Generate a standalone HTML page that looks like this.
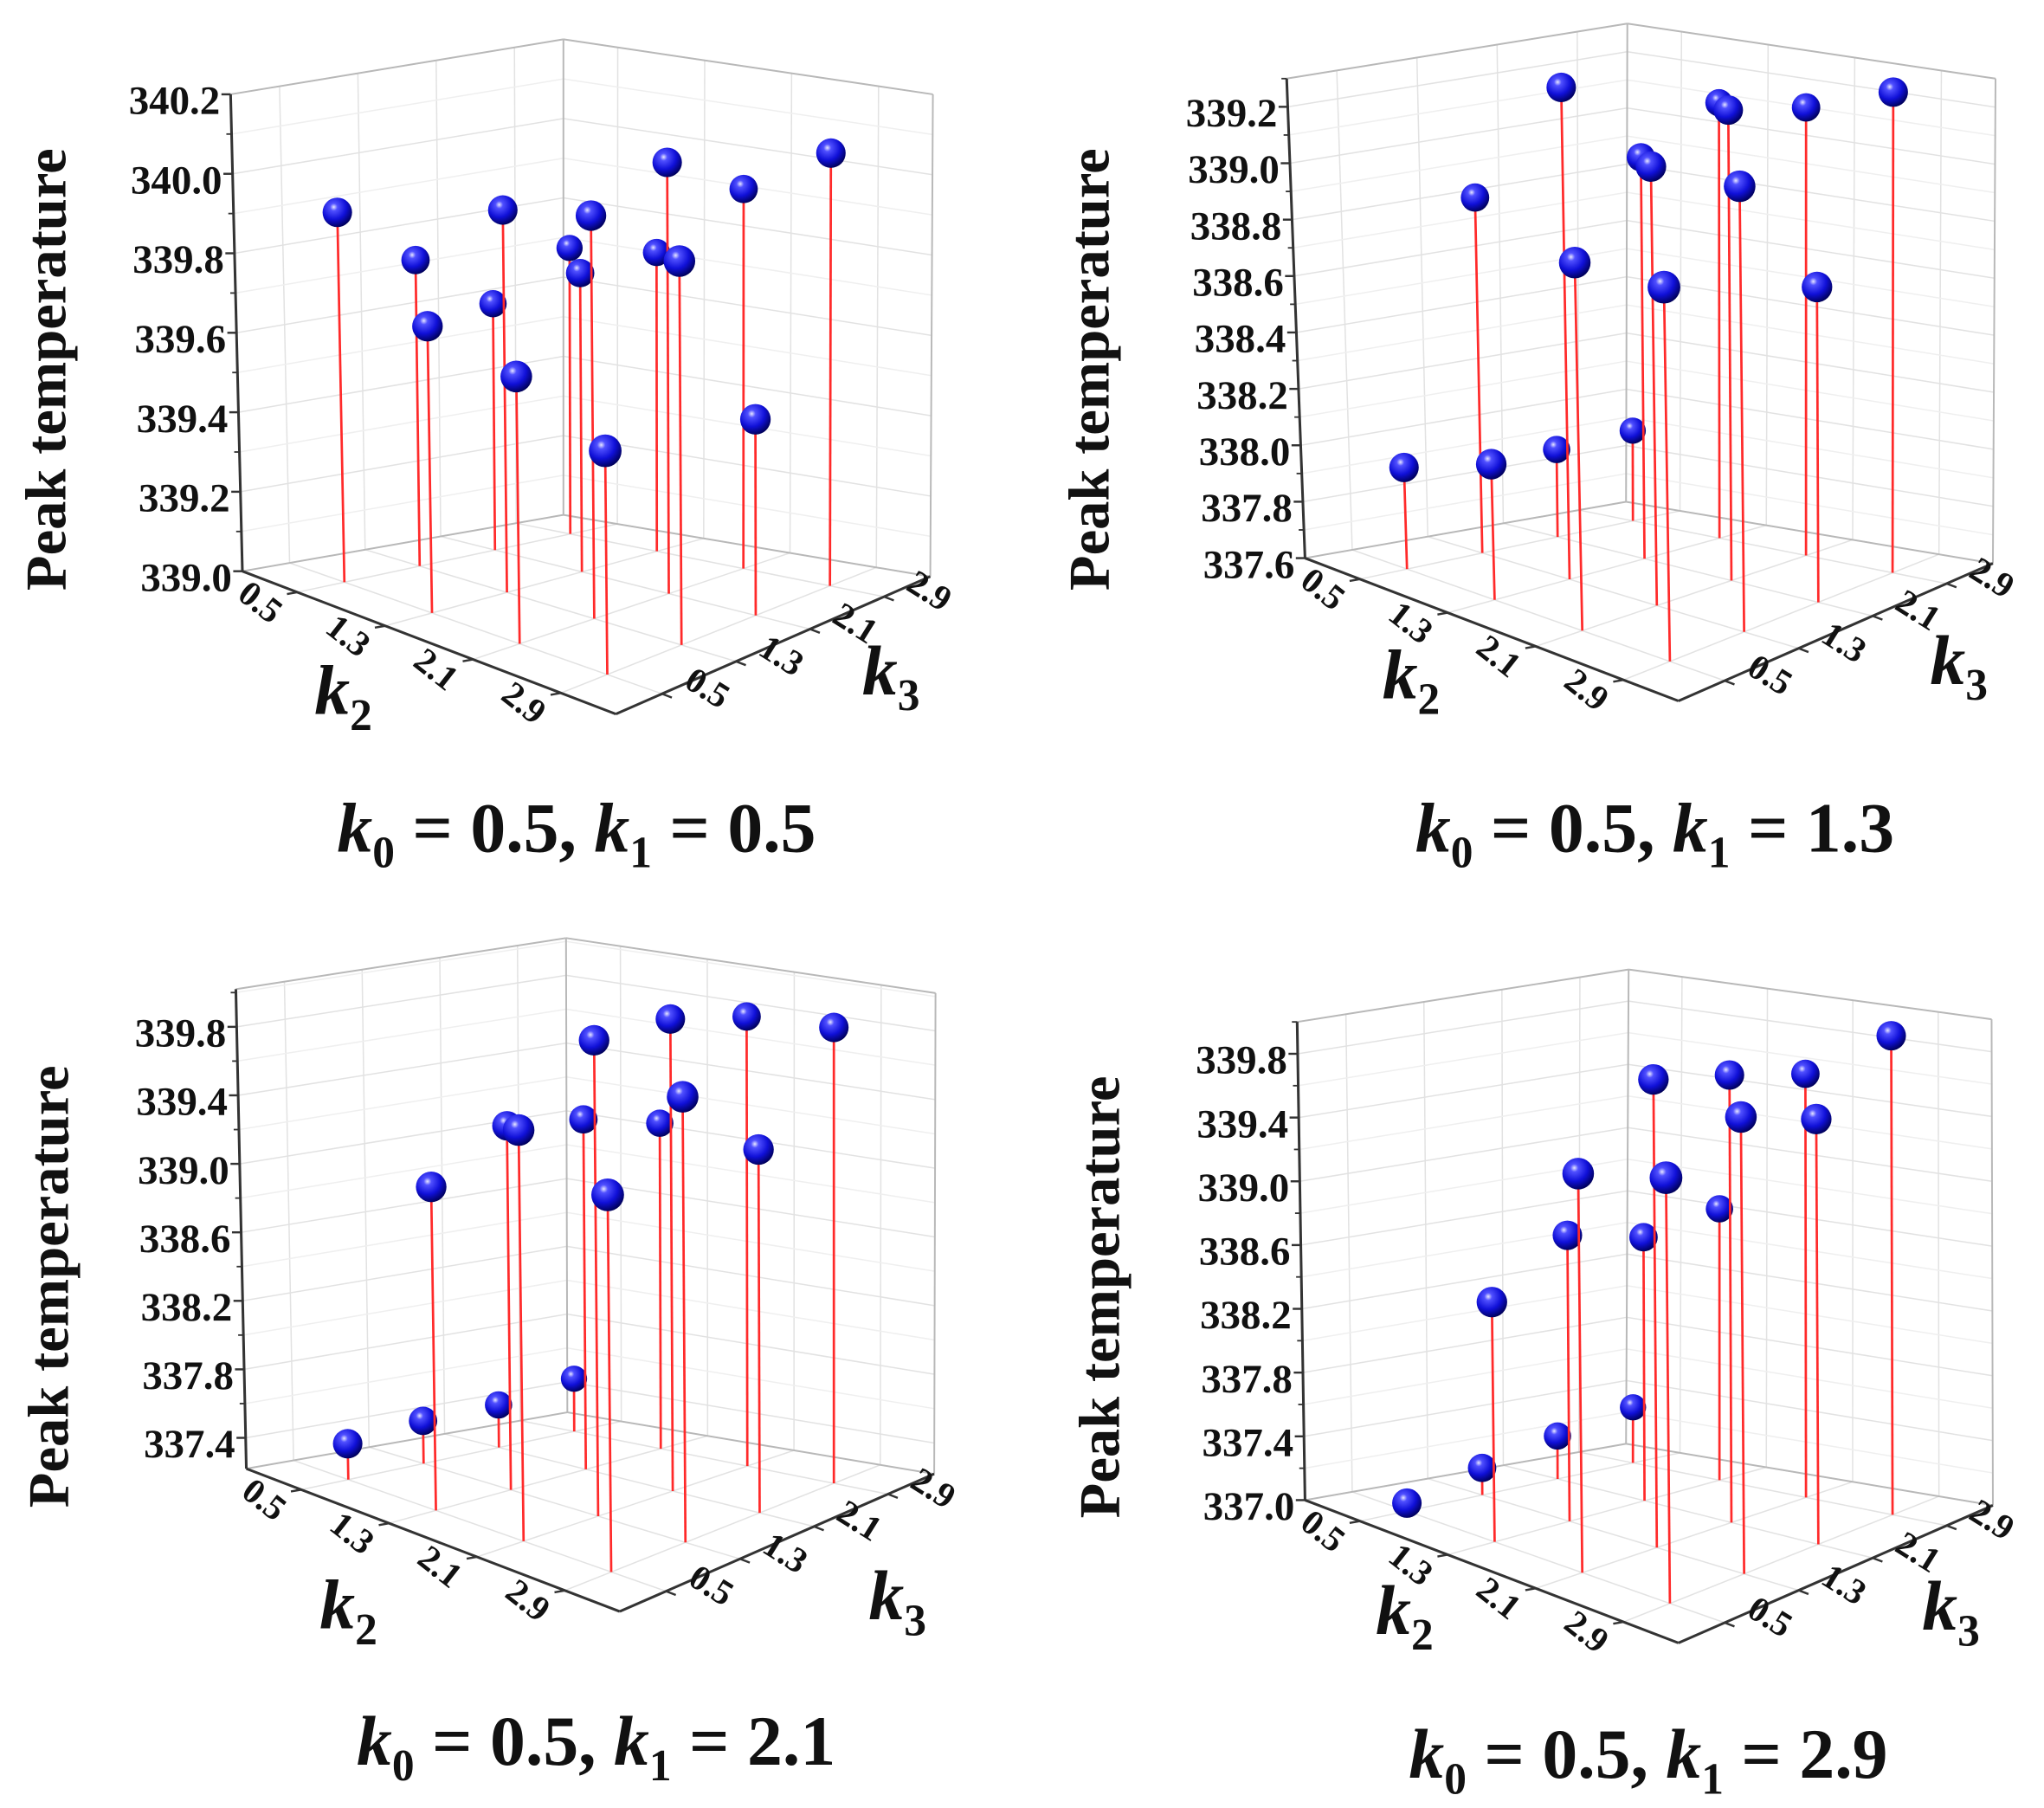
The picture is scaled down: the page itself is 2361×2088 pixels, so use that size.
<!DOCTYPE html>
<html><head><meta charset="utf-8"><style>
html,body{margin:0;padding:0;background:#fff;}
svg{display:block;}
text{font-family:"Liberation Serif",serif;}
</style></head><body>
<svg id="fig" xmlns="http://www.w3.org/2000/svg" width="2361" height="2088" viewBox="0 0 1560 1380" preserveAspectRatio="none">
<defs>
<radialGradient id="ballGrad" cx="0.38" cy="0.32" r="0.7">
<stop offset="0" stop-color="#e8e8ff"/>
<stop offset="0.18" stop-color="#5050ff"/>
<stop offset="0.6" stop-color="#1010d8"/>
<stop offset="1" stop-color="#00005a"/>
</radialGradient>
</defs>
</svg>
<script>
// ---- data ----
const k2Ticks = [0.5, 1.3, 2.1, 2.9];
const k3Ticks = [0.5, 1.3, 2.1, 2.9];
const k2Labels = ["0.5", "1.3", "2.1", "2.9"];
const k3Labels = ["0.5", "1.3", "2.1", "2.9"];
// rows: k2 = 0.5,1.3,2.1,2.9 ; columns: k3 = 0.5,1.3,2.1,2.9
const valsA = [339.93, 339.77, 339.62, 339.72,
               339.72, 339.96, 339.75, 339.75,
               339.67, 340.01, 340.08, 339.95,
               339.56, 339.96, 339.49, 340.08];
const valsB = [337.96, 338.86, 337.91, 337.92,
               338.08, 339.34, 339.02, 339.14,
               338.90, 339.15, 339.26, 339.18,
               338.92, 339.17, 338.71, 339.29];
const valsC = [337.43, 337.47, 337.47, 337.53,
               339.11, 339.35, 339.27, 339.13,
               339.62, 340.00, 339.98, 339.85,
               339.42, 339.82, 339.34, 339.88];
const valsD = [337.05, 337.17, 337.27, 337.35,
               338.50, 338.79, 338.65, 338.70,
               339.49, 339.92, 339.79, 339.64,
               339.65, 339.84, 339.64, 339.97];
const zTicksA = [339.0, 339.2, 339.4, 339.6, 339.8, 340.0, 340.2];
const zLabelsA = ["339.0", "339.2", "339.4", "339.6", "339.8", "340.0", "340.2"];
const zTicksB = [337.6, 337.8, 338.0, 338.2, 338.4, 338.6, 338.8, 339.0, 339.2];
const zLabelsB = ["337.6", "337.8", "338.0", "338.2", "338.4", "338.6", "338.8", "339.0", "339.2"];
const zTicksC = [337.4, 337.8, 338.2, 338.6, 339.0, 339.4, 339.8];
const zLabelsC = ["337.4", "337.8", "338.2", "338.6", "339.0", "339.4", "339.8"];
const zTicksD = [337.0, 337.4, 337.8, 338.2, 338.6, 339.0, 339.4, 339.8];
const zLabelsD = ["337.0", "337.4", "337.8", "338.2", "338.6", "339.0", "339.4", "339.8"];
const zRangeA = [339.0, 340.2];
const zRangeB = [337.6, 339.3];
const zRangeC = [337.22, 340.02];
const zRangeD = [337.0, 340.0];
const k1Values = ["0.5", "1.3", "2.1", "2.9"];
const kDomain = [0, 3.4];

// ---- layout (geometry, not data) ----
function P(x, y) { return {x: x, y: y}; }
const layouts = [
  {floor: [P(185,436), P(470,545), P(710,440), P(430,393)], top: [P(176,72), null, P(712,72), P(430,30)],
   ytitle: P(50,282), k2t: P(262,545), k3t: P(680,530), title: P(440,650)},
  {floor: [P(996,426), P(1281,535), P(1521,430), P(1241,383)], top: [P(982,60), null, P(1523,60), P(1242,18)],
   ytitle: P(846,282), k2t: P(1077,533), k3t: P(1495,522), title: P(1263,650)},
  {floor: [P(188,1121), P(473,1230), P(713,1125), P(433,1078)], top: [P(180,755), null, P(714,758), P(432,716)],
   ytitle: P(52,982), k2t: P(266,1243), k3t: P(685,1236), title: P(455,1347)},
  {floor: [P(996,1145), P(1281,1254), P(1521,1149), P(1241,1102)], top: [P(990,780), null, P(1520,778), P(1243,740)],
   ytitle: P(854,990), k2t: P(1072,1247), k3t: P(1489,1244), title: P(1258,1357)}
];
const panelVals = [valsA, valsB, valsC, valsD];
const panelZTicks = [zTicksA, zTicksB, zTicksC, zTicksD];
const panelZLabels = [zLabelsA, zLabelsB, zLabelsC, zLabelsD];
const panelZRange = [zRangeA, zRangeB, zRangeC, zRangeD];

const NS = "http://www.w3.org/2000/svg";
const svg = document.getElementById("fig");
function mk(tag, attrs, parent) {
  const e = document.createElementNS(NS, tag);
  for (const k in attrs) e.setAttribute(k, attrs[k]);
  parent.appendChild(e);
  return e;
}
function bil(c, u, v) {
  return {
    x: c[0].x*(1-u)*(1-v) + c[1].x*u*(1-v) + c[2].x*u*v + c[3].x*(1-u)*v,
    y: c[0].y*(1-u)*(1-v) + c[1].y*u*(1-v) + c[2].y*u*v + c[3].y*(1-u)*v
  };
}
function kScale(k) { return (k - kDomain[0]) / (kDomain[1] - kDomain[0]); }

layouts.forEach(function(L, pi) {
  const fl = L.floor, tp = L.top.slice();
  tp[1] = P(fl[1].x + ((tp[0].x-fl[0].x)+(tp[2].x-fl[2].x))/2, fl[1].y + ((tp[0].y-fl[0].y)+(tp[2].y-fl[2].y))/2);
  const zr = panelZRange[pi];
  function zS(z) { return (z - zr[0]) / (zr[1] - zr[0]); }
  function proj(u, v, t) {
    const a = bil(fl, u, v), b = bil(tp, u, v);
    return {x: a.x + (b.x-a.x)*t, y: a.y + (b.y-a.y)*t};
  }
  const g = mk("g", {}, svg);
  
  
  function line(p, q, col, w, name, parent) {
    const e = mk("line", {x1: p.x, y1: p.y, x2: q.x, y2: q.y, stroke: col, "stroke-width": w}, parent || g);
    
    
    return e;
  }
  const grid = mk("g", {}, g);
  
  
  const gc = "#e2e2e2", gm = "#efefef";
  k2Ticks.forEach(function(k) { const u = kScale(k); line(proj(u,0,0), proj(u,1,0), gc, 1, 'floor-grid-k2', grid); });
  k3Ticks.forEach(function(k) { const v = kScale(k); line(proj(0,v,0), proj(1,v,0), gc, 1, 'floor-grid-k3', grid); });
  k3Ticks.forEach(function(k) { const v = kScale(k); line(proj(0,v,0), proj(0,v,1), gc, 1, 'left-wall-grid-v', grid); });
  k2Ticks.forEach(function(k) { const u = kScale(k); line(proj(u,1,0), proj(u,1,1), gc, 1, 'back-wall-grid-v', grid); });
  const zt = panelZTicks[pi];
  const step = zt[1] - zt[0];
  zt.forEach(function(z) {
    [z, z + step/2].forEach(function(zz, j) {
      const t = zS(zz); if (t > 1.001) return;
      const col = j ? gm : gc;
      line(proj(0,0,t), proj(0,1,t), col, 1, 'left-wall-grid-z', grid);
      line(proj(0,1,t), proj(1,1,t), col, 1, 'back-wall-grid-z', grid);
    });
  });
  const bc = "#b8b8b8";
  line(proj(0,0,1), proj(0,1,1), bc, 1.3, 'box-edge');
  line(proj(0,1,1), proj(1,1,1), bc, 1.3, 'box-edge');
  line(proj(0,1,0), proj(0,1,1), bc, 1.3, 'box-edge');
  line(proj(1,1,0), proj(1,1,1), bc, 1.3, 'box-edge');
  line(proj(0,0,0), proj(0,1,0), bc, 1.3, 'box-edge');
  line(proj(0,1,0), proj(1,1,0), bc, 1.3, 'box-edge');
  const ac = "#333";
  line(proj(0,0,0), proj(0,0,1), ac, 2, 'z-axis');
  line(proj(0,0,0), proj(1,0,0), ac, 2, 'k2-axis');
  line(proj(1,0,0), proj(1,1,0), ac, 2, 'k3-axis');
  const zl = panelZLabels[pi];
  zt.forEach(function(z, i) {
    const p = proj(0,0,zS(z));
    line(p, P(p.x-7, p.y), ac, 1.6, 'z-tick');
    const hp = proj(0,0,zS(z+step/2));
    if (zS(z+step/2) <= 1) line(hp, P(hp.x-4, hp.y), ac, 1.2, 'z-minor-tick');
    const tx = mk("text", {x: p.x-8, y: p.y+15, "text-anchor": "end", "font-size": 31, "font-weight": "bold", fill: "#111"}, g);
    
    
    tx.textContent = zl[i];
  });
  const n2x = fl[0].x - fl[3].x, n2y = fl[0].y - fl[3].y, n2l = Math.hypot(n2x, n2y);
  const d2 = {x: n2x/n2l, y: n2y/n2l};
  k2Ticks.forEach(function(k, i) {
    const p = proj(kScale(k),0,0);
    line(p, P(p.x+d2.x*8, p.y+d2.y*8), ac, 1.6, 'k2-tick');
    const lx = p.x + d2.x*26 - 8, ly = p.y + d2.y*26 + 10;
    const tx = mk("text", {x: lx, y: ly, "text-anchor": "middle", "font-size": 27, "font-weight": "bold", fill: "#111",
      transform: "rotate(38 " + lx + " " + ly + ")"}, g);
    
    
    tx.textContent = k2Labels[i];
  });
  k3Ticks.forEach(function(k, i) {
    const p = proj(1,kScale(k),0);
    const n3x = fl[1].x - fl[0].x, n3y = fl[1].y - fl[0].y, n3l = Math.hypot(n3x, n3y);
    line(p, P(p.x+n3x/n3l*8, p.y+n3y/n3l*8), ac, 1.6, 'k3-tick');
    const lx = p.x + 30, ly = p.y + 3;
    const tx = mk("text", {x: lx, y: ly, "text-anchor": "middle", "font-size": 27, "font-weight": "bold", fill: "#111",
      transform: "rotate(32 " + lx + " " + ly + ")"}, g);
    
    
    tx.textContent = k3Labels[i];
  });
  const yt = mk("text", {x: L.ytitle.x, y: L.ytitle.y, "text-anchor": "middle", "font-size": 44, "font-weight": "bold", fill: "#111",
    transform: "rotate(-90 " + L.ytitle.x + " " + L.ytitle.y + ")"}, g);
  
  
  yt.textContent = "Peak temperature";
  [["k2-axis-title", L.k2t, "2"], ["k3-axis-title", L.k3t, "3"]].forEach(function(a) {
    const t = mk("text", {x: a[1].x, y: a[1].y, "text-anchor": "middle", "font-size": 54, "font-style": "italic", "font-weight": "bold", fill: "#111"}, g);
    
    
    t.innerHTML = 'k<tspan font-size="34" font-style="normal" dy="12">' + a[2] + '</tspan>';
  });
  const tt = mk("text", {x: L.title.x, y: L.title.y, "text-anchor": "middle", "font-size": 54, "font-weight": "bold", fill: "#111"}, g);
  
  
  tt.innerHTML = '<tspan font-style="italic">k</tspan><tspan font-size="34" dy="12">0</tspan><tspan dy="-12"> = 0.5,  </tspan><tspan font-style="italic">k</tspan><tspan font-size="34" dy="12">1</tspan><tspan dy="-12"> = ' + k1Values[pi] + '</tspan>';
  const vals = panelVals[pi];
  const pts = [];
  k2Ticks.forEach(function(k2, i) {
    k3Ticks.forEach(function(k3, j) {
      const u = kScale(k2), v = kScale(k3);
      pts.push({u: u, v: v, val: vals[i*4+j], depth: u - v});
    });
  });
  pts.sort(function(a, b) { return a.depth - b.depth; });
  const sg = mk("g", {}, g);
  
  
  pts.forEach(function(p) {
    const b = proj(p.u, p.v, 0), t = proj(p.u, p.v, zS(p.val));
    line(b, t, "#ff2a2a", 1.8, 'stem', sg);
    const r = 9.5 + 3.5 * (p.depth + 1) / 2;
    const c = mk("circle", {cx: t.x, cy: t.y, r: r, fill: "url(#ballGrad)"}, sg);
    
    
  });
});
</script>
</body></html>
